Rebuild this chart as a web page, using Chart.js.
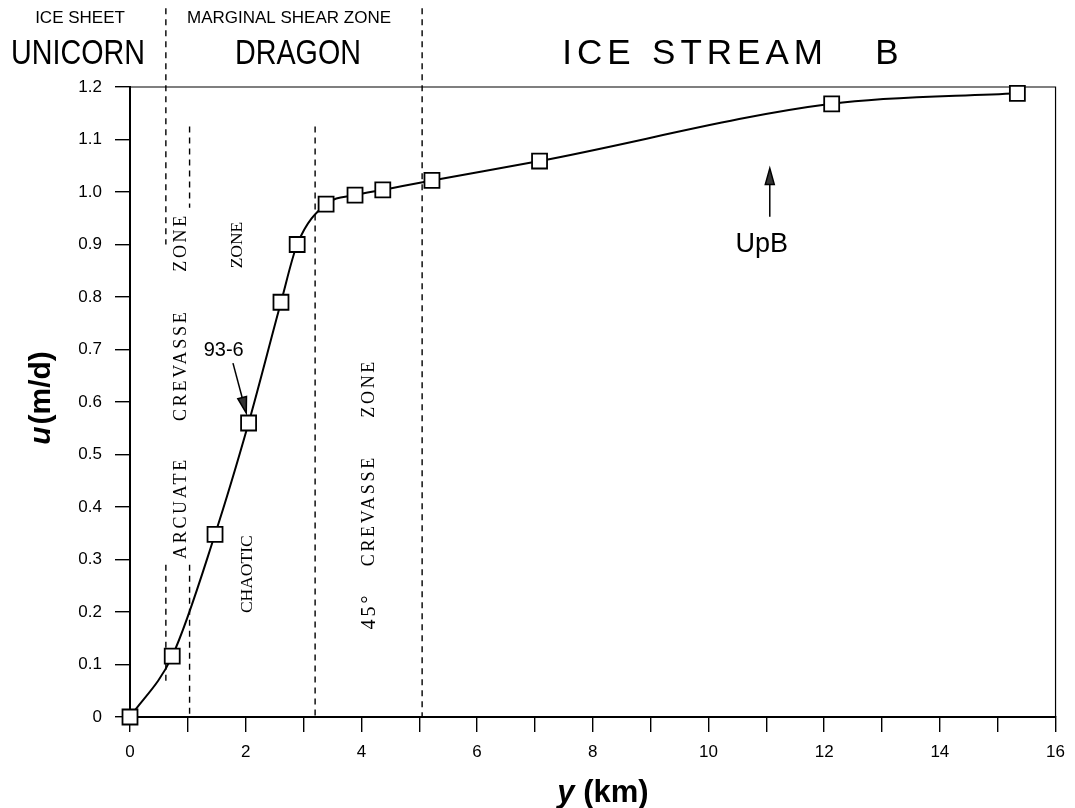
<!DOCTYPE html>
<html>
<head>
<meta charset="utf-8">
<script src="https://cdn.jsdelivr.net/npm/chart.js@4/dist/chart.umd.min.js"></script>
<style>
  html, body { margin: 0; padding: 0; background: #fff; }
  canvas { display: block; }
</style>
</head>
<body>
<canvas id="chart" width="1075" height="808"></canvas>
<script>
// Transverse profile across the Dragon shear margin into Ice Stream B.
// Distance y from the Unicorn edge (km)
const distanceKm = [0, 0.73, 1.47, 2.05, 2.61, 2.89, 3.39, 3.89, 4.37, 5.22, 7.08, 12.13, 15.34];
// Surface speed u (m/d)
const speedMd = [0, 0.116, 0.348, 0.56, 0.79, 0.90, 0.977, 0.994, 1.004, 1.022, 1.059, 1.168, 1.188];

// Axis tick labels
const xTickLabels = ['0', '2', '4', '6', '8', '10', '12', '14', '16'];
const yTickLabels = ['0', '0.1', '0.2', '0.3', '0.4', '0.5', '0.6', '0.7', '0.8', '0.9', '1.0', '1.1', '1.2'];

// Dashed boundaries between crevasse zones (km, with top and bottom speed limits)
const boundaryKm     = [0.62, 0.62, 1.03, 1.03, 3.20, 5.05];
const boundaryTop    = [1.35, 0.29, 1.125, 0.29, 1.125, 1.35];
const boundaryBottom = [0.90, 0.065, 0.97, 0.0, 0.0, 0.0];

const INK = '#000';

const profile = distanceKm.map((x, i) => ({ x, y: speedMd[i] }));

const boundarySets = boundaryKm.map((x, i) => ({
  data: [{ x, y: boundaryTop[i] }, { x, y: boundaryBottom[i] }],
  borderColor: INK,
  borderWidth: 1.4,
  borderDash: [6, 5],
  pointRadius: 0,
  tension: 0,
  clip: false
}));

function vText(ctx, text, x, y, font, spacing) {
  ctx.save();
  ctx.translate(x, y);
  ctx.rotate(-Math.PI / 2);
  ctx.font = font;
  ctx.letterSpacing = (spacing || 0) + 'px';
  ctx.textAlign = 'center';
  ctx.textBaseline = 'middle';
  ctx.fillText(text, 0, 0);
  ctx.restore();
}

function hText(ctx, text, x, y, font, sx, spacing) {
  ctx.save();
  ctx.translate(x, y);
  ctx.scale(sx || 1, 1);
  ctx.font = font;
  ctx.letterSpacing = (spacing || 0) + 'px';
  ctx.textAlign = 'center';
  ctx.textBaseline = 'middle';
  ctx.fillText(text, 0, 0);
  ctx.restore();
}

function arrow(ctx, x0, y0, x1, y1) {
  const ang = Math.atan2(y1 - y0, x1 - x0);
  const len = 16, half = 4.5;
  const bx = x1 - len * Math.cos(ang), by = y1 - len * Math.sin(ang);
  ctx.save();
  ctx.strokeStyle = INK;
  ctx.lineWidth = 1.5;
  ctx.beginPath();
  ctx.moveTo(x0, y0);
  ctx.lineTo(bx, by);
  ctx.stroke();
  ctx.fillStyle = '#333';
  ctx.beginPath();
  ctx.moveTo(x1, y1);
  ctx.lineTo(bx + half * Math.sin(ang), by - half * Math.cos(ang));
  ctx.lineTo(bx - half * Math.sin(ang), by + half * Math.cos(ang));
  ctx.closePath();
  ctx.fill();
  ctx.stroke();
  ctx.restore();
}

const decorations = {
  id: 'decorations',
  beforeDatasetsDraw(chart) {
    const { ctx, chartArea: a } = chart;
    // thin frame on the top and right sides
    ctx.save();
    ctx.strokeStyle = INK;
    ctx.lineWidth = 1.2;
    ctx.beginPath();
    ctx.moveTo(a.left, a.top);
    ctx.lineTo(a.right, a.top);
    ctx.lineTo(a.right, a.bottom);
    ctx.stroke();
    ctx.restore();
  },
  afterDatasetsDraw(chart) {
    const { ctx } = chart;
    const sx = chart.scales.x, sy = chart.scales.y;
    const px = v => sx.getPixelForValue(v);
    const py = v => sy.getPixelForValue(v);
    ctx.save();
    ctx.fillStyle = INK;

    // crevasse-zone labels, written along the flow direction
    const type = '18px "Liberation Serif", "DejaVu Serif", serif';
    vText(ctx, 'ARCUATE', px(0.88), py(0.398), type, 2.7);
    vText(ctx, 'CREVASSE', px(0.88), py(0.670), type, 2.7);
    vText(ctx, 'ZONE', px(0.88), py(0.904), type, 2.7);

    const serif = '17.5px "Liberation Serif", "DejaVu Serif", serif';
    vText(ctx, 'CHAOTIC', px(2.03), py(0.272), serif, 0);
    vText(ctx, 'ZONE', px(1.85), py(0.899), serif, 0);

    vText(ctx, '45°', px(4.14), py(0.202), '20px "Liberation Serif", serif', 3);
    vText(ctx, 'CREVASSE', px(4.14), py(0.393), type, 2.7);
    vText(ctx, 'ZONE', px(4.14), py(0.626), type, 2.7);

    // station callouts
    const sans = '"Liberation Sans", Arial, sans-serif';
    hText(ctx, '93-6', px(1.62), py(0.699), '20px ' + sans);
    arrow(ctx, px(1.78), py(0.674), px(2.01), py(0.579));
    hText(ctx, 'UpB', px(10.92), py(0.899), '27px ' + sans);
    arrow(ctx, px(11.06), py(0.953), px(11.06), py(1.045));

    // region headings
    hText(ctx, 'ICE SHEET', 80, 18, '17px ' + sans);
    hText(ctx, 'MARGINAL SHEAR ZONE', 289, 18, '17px ' + sans);
    hText(ctx, 'UNICORN', 78, 54, '35px ' + sans, 0.82);
    hText(ctx, 'DRAGON', 298, 54, '35px ' + sans, 0.82);
    hText(ctx, 'ICE', 599, 54, '35px ' + sans, 1, 5);
    hText(ctx, 'STREAM', 740, 54, '35px ' + sans, 1, 5);
    hText(ctx, 'B', 887, 54, '35px ' + sans, 1, 0);

    // axis titles (italic symbol + bold units)
    const bi = 'italic bold 31px ' + sans, b = 'bold 31px ' + sans;
    ctx.font = bi; const w1 = ctx.measureText('y').width;
    ctx.font = b; const w2 = ctx.measureText(' (km)').width;
    let x0 = 603 - (w1 + w2) / 2;
    ctx.textBaseline = 'middle';
    ctx.textAlign = 'left';
    ctx.font = bi; ctx.fillText('y', x0, 793);
    ctx.font = b; ctx.fillText(' (km)', x0 + w1, 793);

    ctx.save();
    ctx.translate(42, 398);
    ctx.rotate(-Math.PI / 2);
    const b30i = 'italic bold 30px ' + sans, b30 = 'bold 30px ' + sans;
    ctx.font = b30i; const u1 = ctx.measureText('u').width;
    ctx.font = b30; const u2 = ctx.measureText('(m/d)').width;
    const gap = 2;
    let s0 = -(u1 + gap + u2) / 2;
    ctx.textBaseline = 'middle';
    ctx.textAlign = 'left';
    ctx.font = b30i; ctx.fillText('u', s0, 0);
    ctx.font = b30; ctx.fillText('(m/d)', s0 + u1 + gap, 0);
    ctx.restore();

    ctx.restore();
  }
};

new Chart(document.getElementById('chart'), {
  type: 'line',
  data: {
    datasets: [
      {
        data: profile,
        borderColor: INK,
        borderWidth: 2,
        cubicInterpolationMode: 'monotone',
        pointStyle: 'rect',
        pointRadius: 10.6,
        pointBorderWidth: 1.8,
        pointBackgroundColor: '#fff',
        pointBorderColor: INK,
        clip: false
      },
      ...boundarySets
    ]
  },
  options: {
    responsive: false,
    animation: false,
    events: [],
    layout: { padding: { top: 87, right: 17, bottom: 0, left: 0 } },
    plugins: { legend: { display: false }, tooltip: { enabled: false } },
    scales: {
      x: {
        type: 'linear',
        min: 0,
        max: 16,
        afterFit(scale) { scale.height = 91; },
        border: { display: true, color: INK, width: 2 },
        grid: { drawOnChartArea: false, drawTicks: true, tickLength: 15, color: INK, lineWidth: 1.4 },
        ticks: {
          stepSize: 1,
          autoSkip: false,
          maxRotation: 0,
          padding: 10,
          color: INK,
          font: { family: '"Liberation Sans", Arial, sans-serif', size: 17 },
          callback: v => (v % 2 === 0 ? xTickLabels[v / 2] : '')
        }
      },
      y: {
        min: 0,
        max: 1.2,
        afterFit(scale) { scale.width = 130; },
        border: { display: true, color: INK, width: 2 },
        grid: { drawOnChartArea: false, drawTicks: true, tickLength: 15, color: INK, lineWidth: 1.4 },
        ticks: {
          stepSize: 0.1,
          padding: 13,
          color: INK,
          font: { family: '"Liberation Sans", Arial, sans-serif', size: 17 },
          callback: v => yTickLabels[Math.round(v * 10)]
        }
      }
    }
  },
  plugins: [decorations]
});
</script>
</body>
</html>
